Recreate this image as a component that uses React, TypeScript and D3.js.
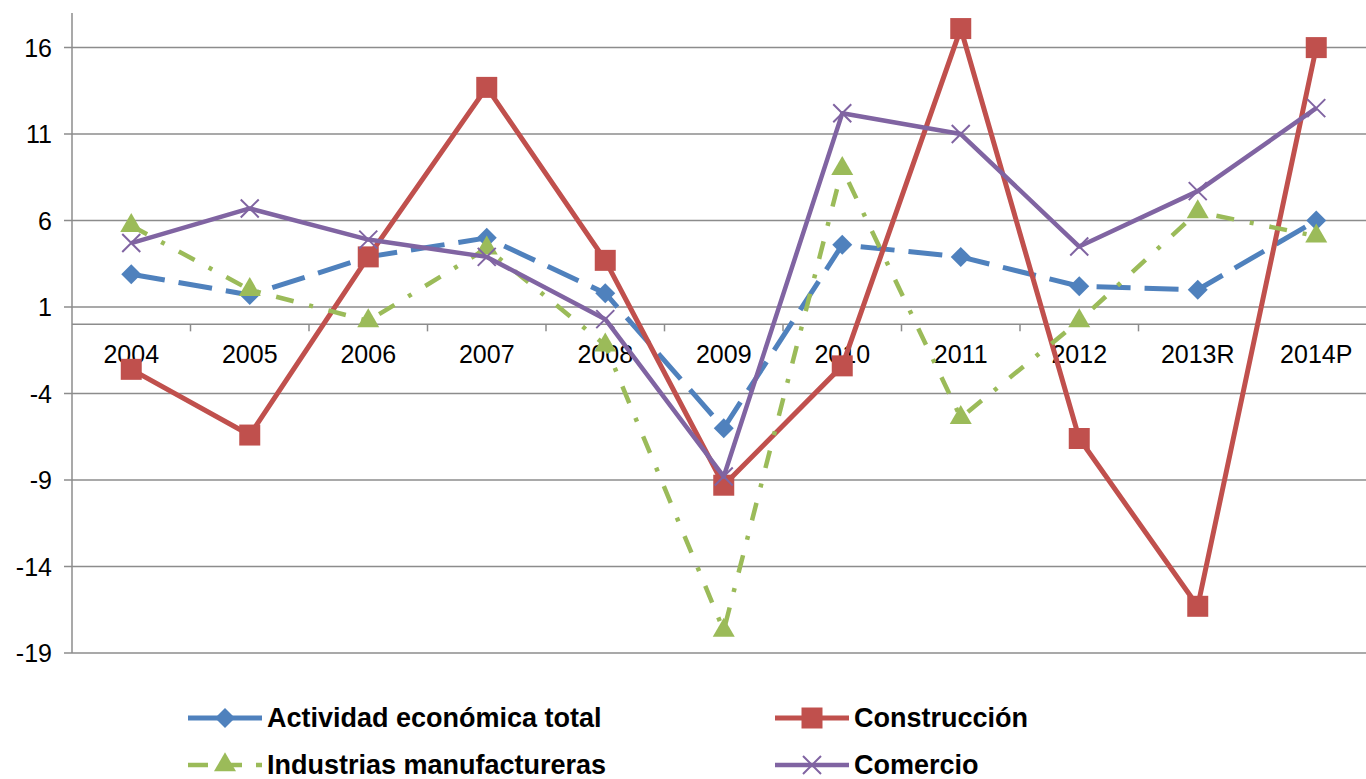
import * as d3 from 'd3';
import React from 'react';

// categorías y series (variación %)
const years = ['2004', '2005', '2006', '2007', '2008', '2009', '2010', '2011', '2012', '2013R', '2014P'];
const actividad = [2.9, 1.7, 3.9, 5.0, 1.8, -6.0, 4.6, 3.9, 2.2, 2.0, 6.0];
const construccion = [-2.6, -6.4, 3.9, 13.7, 3.7, -9.3, -2.4, 17.1, -6.6, -16.3, 16.0];
const industrias = [5.7, 2.0, 0.2, 4.4, -1.2, -17.7, 9.0, -5.4, 0.2, 6.5, 5.1];
const comercio = [4.7, 6.7, 4.9, 3.9, 0.3, -8.8, 12.2, 11.0, 4.5, 7.7, 12.5];
const yTicks = [16, 11, 6, 1, -4, -9, -14, -19];

const W = 1366;
const H = 779;
const font = '"Liberation Sans", Arial, sans-serif';

const series = [
  {name: 'Actividad económica total', values: actividad, color: '#4F81BD', marker: 'diamond', dash: '34,14', width: 5},
  {name: 'Construcción', values: construccion, color: '#C0504D', marker: 'square', dash: null, width: 5},
  {name: 'Industrias manufactureras', values: industrias, color: '#9BBB59', marker: 'triangle', dash: '18,16,4,16', width: 4.5},
  {name: 'Comercio', values: comercio, color: '#8064A2', marker: 'x', dash: null, width: 4.5},
];

function Marker({type, x, y, color}) {
  if (type === 'diamond') {
    const p = d3.symbol(d3.symbolSquare, 200)();
    return <path d={p} transform={`translate(${x},${y}) rotate(45)`} fill={color} />;
  }
  if (type === 'square') {
    const p = d3.symbol(d3.symbolSquare, 441)();
    return <path d={p} transform={`translate(${x},${y})`} fill={color} />;
  }
  if (type === 'triangle') {
    const p = d3.symbol(d3.symbolTriangle, 210)();
    return <path d={p} transform={`translate(${x},${y})`} fill={color} />;
  }
  const s = 9;
  return (
    <path
      d={`M${x - s},${y - s}L${x + s},${y + s}M${x - s},${y + s}L${x + s},${y - s}`}
      stroke={color}
      strokeWidth={2}
      fill="none"
    />
  );
}

export default function App() {
  const left = 72;
  const top = 13;
  const bottom = 653;
  const bandW = 118.5;
  const right = left + bandW * years.length;

  const x = d3.scaleBand().domain(years).range([left, right]).padding(0);
  const y = d3.scaleLinear().domain([-19, 18]).range([bottom, top]);
  const cx = (d) => x(d) + x.bandwidth() / 2;

  const grid = '#8C8C8C';

  return (
    <svg width={W} height={H} style={{position: 'absolute', left: 0, top: 0, background: '#fff'}}>
      {/* líneas de división */}
      {yTicks.map((t) => (
        <g key={t}>
          <line x1={left - 8} x2={W} y1={y(t)} y2={y(t)} stroke={grid} strokeWidth={1.5} />
          <text x={52} y={y(t)} dy="0.36em" textAnchor="end" fontFamily={font} fontSize={25} fill="#000">
            {t}
          </text>
        </g>
      ))}
      {/* eje vertical */}
      <line x1={left} x2={left} y1={top} y2={bottom} stroke={grid} strokeWidth={1.5} />
      {/* eje horizontal en cero */}
      <line x1={left} x2={W} y1={y(0)} y2={y(0)} stroke={grid} strokeWidth={1.5} />
      {years.map((yr) => (
        <g key={yr}>
          <line x1={x(yr) + bandW} x2={x(yr) + bandW} y1={y(0)} y2={y(0) + 7} stroke={grid} strokeWidth={1.5} />
          <text x={cx(yr)} y={y(0) + 39} textAnchor="middle" fontFamily={font} fontSize={25} fill="#000">
            {yr}
          </text>
        </g>
      ))}

      {/* series */}
      {series.map((s) => {
        const line = d3
          .line()
          .x((d, i) => cx(years[i]))
          .y((d) => y(d));
        return (
          <g key={s.name}>
            <path
              d={line(s.values)}
              fill="none"
              stroke={s.color}
              strokeWidth={s.width}
              strokeDasharray={s.dash || undefined}
              strokeLinejoin="round"
            />
            {s.values.map((v, i) => (
              <Marker key={i} type={s.marker} x={cx(years[i])} y={y(v)} color={s.color} />
            ))}
          </g>
        );
      })}

      {/* leyenda */}
      {series.map((s, i) => {
        const col = i % 2;
        const row = Math.floor(i / 2);
        const lx = col === 0 ? 188 : 775;
        const ly = 718 + row * 47;
        return (
          <g key={'lg' + s.name}>
            <line
              x1={lx}
              x2={lx + 74}
              y1={ly}
              y2={ly}
              stroke={s.color}
              strokeWidth={s.width}
              strokeDasharray={s.marker === 'diamond' ? '30,14' : s.marker === 'triangle' ? '20,14' : undefined}
            />
            <Marker type={s.marker} x={lx + 37} y={ly} color={s.color} />
            <text x={lx + 79} y={ly + 9} fontFamily={font} fontSize={27} fontWeight="bold" fill="#000">
              {s.name}
            </text>
          </g>
        );
      })}
    </svg>
  );
}
